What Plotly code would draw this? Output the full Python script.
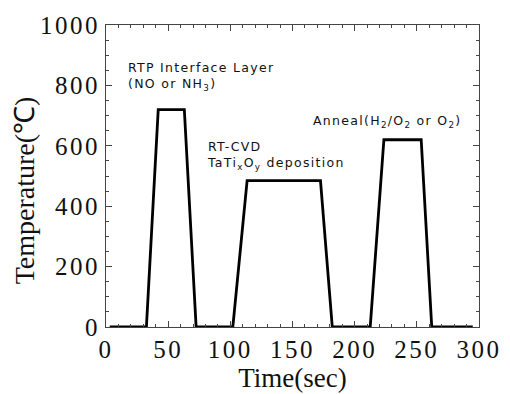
import plotly.graph_objects as go

time_s = [3, 32.5, 42, 63, 72.5, 102, 113.5, 172.5, 182, 212.5, 223.5, 253.5, 262, 295]
temp_c = [0, 0, 720, 720, 0, 0, 485, 485, 0, 0, 620, 620, 0, 0]

x_ticks = [0, 50, 100, 150, 200, 250, 300]
y_ticks = [0, 200, 400, 600, 800, 1000]

labels = [
    (16, 890, "RTP Interface Layer<br>(NO or NH<sub>3</sub>)"),
    (80, 628, "RT-CVD<br>TaTi<sub>x</sub>O<sub>y</sub> deposition"),
    (165, 716, "Anneal(H<sub>2</sub>/O<sub>2</sub> or O<sub>2</sub>)"),
]

fig = go.Figure()
fig.add_trace(go.Scatter(x=time_s, y=temp_c, mode="lines",
                         line=dict(color="black", width=2.8), showlegend=False))

for x, y, t in labels:
    fig.add_annotation(x=x, y=y, text=t, showarrow=False, xanchor="left", yanchor="top",
                       align="left", font=dict(family="DejaVu Sans", size=12.5, color="#111"))

# y-axis title placed slightly below centre, as in the reference
fig.add_annotation(xref="paper", yref="paper", x=-83 / 380, y=0.451, text="Temperature(℃)",
                   textangle=-90, showarrow=False, xanchor="center", yanchor="middle",
                   font=dict(family="Liberation Serif", size=28, color="#111"))

axis_common = dict(showline=True, linecolor="#444", linewidth=1, mirror="ticks",
                   ticks="inside", ticklen=6, tickcolor="#444", showgrid=False, zeroline=False,
                   tickfont=dict(family="Liberation Serif", size=25, color="#111"))

fig.update_xaxes(range=[0, 300], tickvals=x_ticks, **axis_common,
                 minor=dict(dtick=10, ticks="inside", ticklen=3, tickcolor="#444"),
                 title=dict(text="Time(sec)", font=dict(family="Liberation Serif", size=27, color="#111"), standoff=0))
fig.update_yaxes(range=[0, 1000], tickvals=y_ticks, **axis_common,
                 minor=dict(dtick=50, ticks="inside", ticklen=3, tickcolor="#444"))

fig.update_layout(width=510, height=394, margin=dict(l=106, r=24, t=25, b=61),
                  plot_bgcolor="white", paper_bgcolor="white")

spacing_js = """
function rsSpace(){
  document.querySelectorAll('.annotation-text').forEach(function(e){
    if (!/Temperature/.test(e.textContent)) e.setAttribute('letter-spacing','1.3px');
  });
  document.querySelectorAll('.xtick text, .ytick text').forEach(function(e){e.setAttribute('letter-spacing','2.5px');});
}
rsSpace();
var gd = document.getElementById('{plot_id}');
if (gd && gd.on) { gd.on('plotly_afterplot', rsSpace); }
"""

fig.write_html("out.html", post_script=spacing_js)
